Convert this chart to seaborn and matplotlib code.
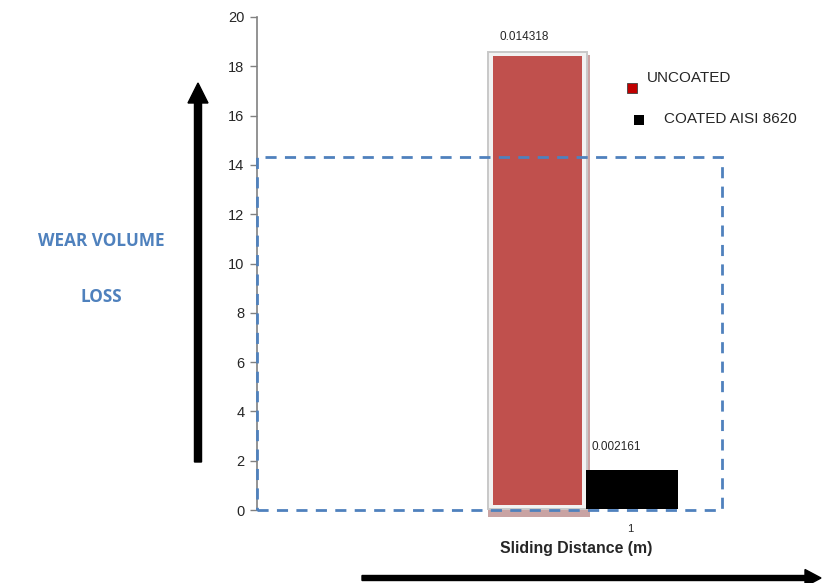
import matplotlib
matplotlib.use("Agg")
import matplotlib.pyplot as plt
from matplotlib.patches import Rectangle, FancyArrow
import seaborn as sns
import pandas as pd

# Wear test results (volume loss) and the column heights drawn on the 0-20 scale
materials = ["UNCOATED", "COATED AISI 8620"]
wear_volume = [0.014318, 0.002161]
column_heights = [18.42, 1.62]
column_positions = [0, 1]
column_colors = ["#C0504D", "#000000"]
legend_colors = ["#C00000", "#000000"]

y_ticks = [0, 2, 4, 6, 8, 10, 12, 14, 16, 18, 20]
x_tick_labels = ["1"]

sns.set_style("white")
plt.rcParams["font.family"] = ["Liberation Sans", "DejaVu Sans"]

W, H = 822, 583
fig = plt.figure(figsize=(W / 100, H / 100), dpi=100)
ax = fig.add_axes([257 / W, 73 / H, 465 / W, 493 / H])

df = pd.DataFrame({"pos": column_positions, "height": column_heights,
                   "material": materials})

# decorative frame and shadow behind the uncoated column
ax.add_patch(Rectangle((-0.54, -0.28), 1.106, 18.72, facecolor="#C9A3A3",
                       edgecolor="none", zorder=1, clip_on=False))
ax.add_patch(Rectangle((-0.541, 0.04), 1.075, 18.54, facecolor="#F2F2F2",
                       edgecolor="#C8C8C8", linewidth=1.4, zorder=2))

sns.barplot(data=df, x="pos", y="height", hue="material",
            palette=dict(zip(materials, column_colors)), native_scale=True,
            width=1.0, dodge=False, legend=False, ax=ax, zorder=3,
            saturation=1, linewidth=0)

for patch, mat in zip(ax.patches[2:], materials):
    if mat == "UNCOATED":
        patch.set_x(-0.487)
        patch.set_width(0.967)
        patch.set_y(0.2)
        patch.set_height(column_heights[0] - 0.2)
    else:
        patch.set_x(0.52)
        patch.set_width(1.0)
        patch.set_y(0.04)
        patch.set_height(column_heights[1] - 0.04)

# dashed outline at the uncoated wear volume (x1000)
ax.add_patch(Rectangle((-3.05, 0), 5.05, wear_volume[0] * 1000, fill=False,
                       edgecolor="#4F81BD", linewidth=2, linestyle=(0, (4, 3)),
                       zorder=4, clip_on=False))

ax.text(-0.15, 19.19, f"{wear_volume[0]:.6f}", ha="center", va="center", fontsize=8.5)
ax.text(0.588, 2.56, f"{wear_volume[1]:.6f}", ha="left", va="center", fontsize=8.5)

ax.set_xlim(-3.05, 2.0)
ax.set_ylim(0, 20)
ax.set_yticks(y_ticks)
ax.set_yticklabels([str(t) for t in y_ticks], fontsize=10.5)
ax.set_xticks([1])
ax.set_xticklabels(x_tick_labels, fontsize=8)
ax.tick_params(axis="y", direction="out", length=5, width=1, color="#808080",
               left=True, pad=4)
ax.tick_params(axis="x", length=0, pad=10)
ax.set_xlabel("")
ax.set_ylabel("")
for side in ["top", "right", "bottom"]:
    ax.spines[side].set_visible(False)
ax.spines["left"].set_color("#808080")
ax.spines["left"].set_linewidth(1.2)

fig.text(576 / W, 1 - 549 / H, "Sliding Distance (m)", ha="center", va="center",
         fontsize=11.4, fontweight="bold")

# legend markers and labels
fig.patches.append(Rectangle((627 / W, 1 - 93 / H), 10 / W, 10 / H,
                             facecolor=legend_colors[0], edgecolor="#404040",
                             linewidth=0.6, transform=fig.transFigure, figure=fig))
fig.patches.append(Rectangle((634 / W, 1 - 125 / H), 10 / W, 10 / H,
                             facecolor=legend_colors[1], edgecolor="none",
                             transform=fig.transFigure, figure=fig))
fig.text(647 / W, 1 - 78 / H, materials[0], ha="left", va="center", fontsize=11)
fig.text(664 / W, 1 - 119 / H, materials[1], ha="left", va="center", fontsize=11)

# side annotation
blue = "#4F81BD"
fig.text(101 / W, 1 - 241 / H, "WEAR VOLUME", ha="center", va="center",
         fontsize=12.3, fontweight="bold", color=blue, family=["Open Sans", "DejaVu Sans"])
fig.text(101 / W, 1 - 297 / H, "LOSS", ha="center", va="center",
         fontsize=12.3, fontweight="bold", color=blue, family=["Open Sans", "DejaVu Sans"])

# direction arrows
fig.patches.append(FancyArrow(198 / W, 1 - 462 / H, 0, (462 - 83) / H,
                              width=5 / H, head_width=20 / W, head_length=20 / H,
                              length_includes_head=True, color="black",
                              transform=fig.transFigure, figure=fig))
fig.patches.append(FancyArrow(362 / W, 1 - 578 / H, (821 - 362) / W, 0,
                              width=5 / H, head_width=17 / H, head_length=16 / W,
                              length_includes_head=True, color="black",
                              transform=fig.transFigure, figure=fig))

fig.savefig("out.png", dpi=100, facecolor="white")
